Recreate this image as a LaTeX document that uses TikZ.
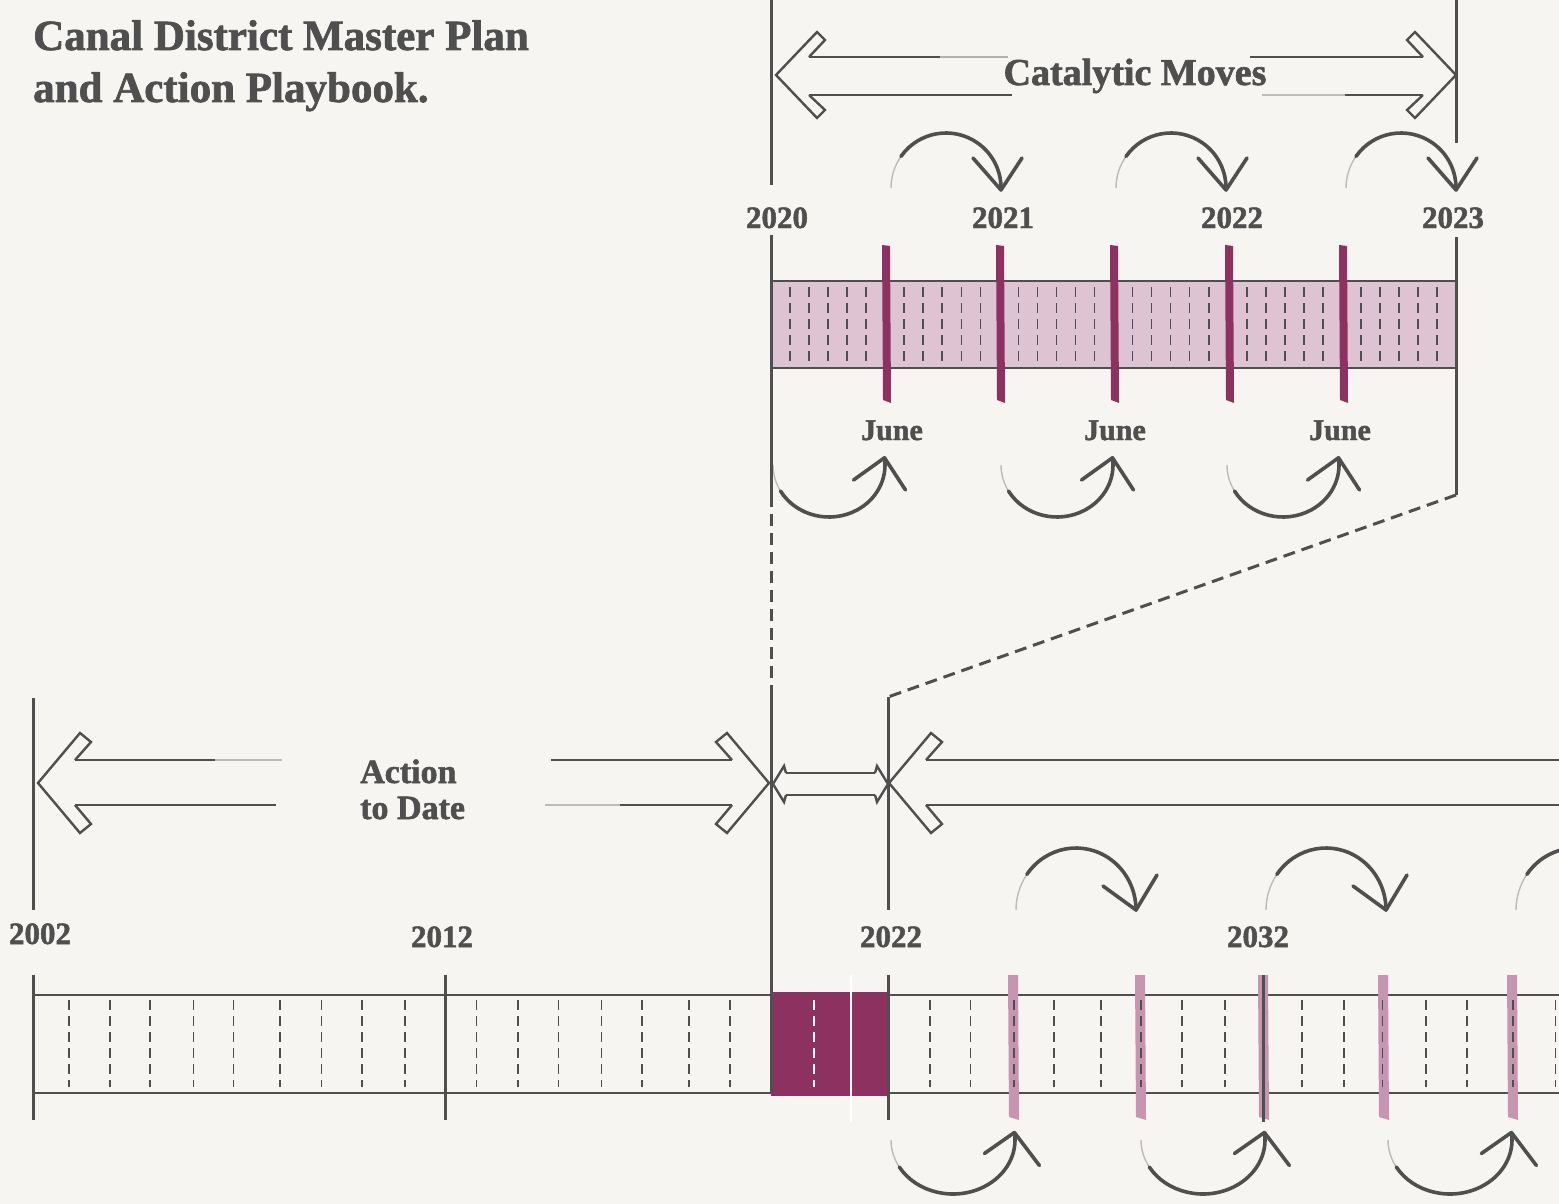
\documentclass[tikz,border=0pt]{standalone}
\usepackage{fontspec}
\setmainfont{Liberation Serif}[BoldFeatures={FakeBold=1.6}]
\usetikzlibrary{calc}
\definecolor{paper}{HTML}{F6F5F1}
\definecolor{ink}{HTML}{4F4F4F}
\definecolor{plum}{HTML}{8C3160}
\definecolor{pinkband}{HTML}{DEC4D2}
\definecolor{pinkbar}{HTML}{C795B0}
\tikzset{
  rule/.style={draw=ink,line width=3pt},
  bandedge/.style={draw=ink,line width=2pt},
  monthtick/.style={draw=ink,line width=1.6pt,dash pattern=on 10pt off 6pt},
  zoomlink/.style={draw=ink,line width=3pt,dash pattern=on 12pt off 7pt},
  hollow/.style={draw=ink,line width=2.4pt,line join=miter},
  curlfaint/.style={draw=ink,line width=1.4pt,opacity=0.35},
  curlline/.style={draw=ink,line width=3.6pt,line cap=round,line join=round},
  lbl/.style={text=ink,inner sep=0pt,font=\bfseries\fontsize{#1}{#1}\selectfont},
}
\begin{document}
\begin{tikzpicture}[x=1pt,y=-1pt]
\fill[paper] (0,0) rectangle (1559,1204);
\useasboundingbox (0,0) rectangle (1559,1204);

% ---------- title ----------
\node[lbl=43,anchor=base west] (title1) at (33,50) {Canal District Master Plan};
\node[lbl=43,anchor=base west] (title2) at (33,102) {and Action Playbook.};

% ---------- top (zoomed) band ----------
\fill[pinkband] (771,280) rectangle (1456,369);
\draw[bandedge] (771,281) -- (1456,281);
\draw[bandedge] (771,368) -- (1456,368);
\foreach \i in {1,...,35} {\draw[monthtick] ({771+\i*19.03},287) -- ++(0,75);}
\foreach \x in {886,1000,1114,1229,1343} {
  \fill[plum] (\x-4,245) -- (\x+4,246) -- (\x+5,403) -- (\x-3,400) -- cycle;}

% vertical rules, top
\draw[rule] (771,0) -- (771,185);
\draw[rule] (771,235) -- (771,495);
\draw[rule] (1456,0) -- (1456,143);
\draw[rule] (1456,237) -- (1456,495);

% zoom links
\coordinate (zl1) at (771,495); \coordinate (zl2) at (771,690);
\coordinate (zr1) at (1456,495); \coordinate (zr2) at (888,697);
\draw[zoomlink] (zl1) -- (zl2);
\draw[zoomlink] (zr1) -- (zr2);

% ---------- Catalytic Moves arrow ----------
\draw[hollow] (809,57) -- (825,40) -- (817,32) -- (776,75) -- (817,118) -- (825,110) -- (809,95);
\draw[hollow] (1423,57) -- (1407,40) -- (1415,32) -- (1456,75) -- (1415,118) -- (1407,110) -- (1423,95);
\draw[hollow] (809,57) -- (940,57);
\draw[hollow,opacity=0.4] (940,57) -- (1008,57);
\draw[hollow] (1250,57) -- (1423,57);
\draw[hollow] (809,95) -- (1012,95);
\draw[hollow,opacity=0.35] (1262,95) -- (1345,95);
\draw[hollow] (1345,95) -- (1423,95);
\node[lbl=38,anchor=base] (catalytic) at (1135,85) {Catalytic Moves};

% top year labels
\node[lbl=31,anchor=base] (y2020t) at (777,228) {2020};
\node[lbl=31,anchor=base] (y2021t) at (1003,228) {2021};
\node[lbl=31,anchor=base] (y2022t) at (1232,228) {2022};
\node[lbl=31,anchor=base] (y2023t) at (1453,228) {2023};

% June labels
\node[lbl=30,anchor=base] (june1) at (892,440) {June};
\node[lbl=30,anchor=base] (june2) at (1115,440) {June};
\node[lbl=30,anchor=base] (june3) at (1340,440) {June};

% curls above top years
\foreach \cx in {946,1171,1401} {
  \draw[curlfaint] (\cx,188) ++(180:55) arc[start angle=180,end angle=215,radius=55];
  \draw[curlline] (\cx,188) ++(215:55) arc[start angle=215,end angle=362,radius=55];
  \draw[curlline] (\cx+27,158) -- (\cx+55,190) -- (\cx+76,158);
}
% curls below June
\foreach \cx in {829,1057,1283} {
  \draw[curlfaint] (\cx,465) ++(180:56 and 52) arc[start angle=180,end angle=150,x radius=56,y radius=52];
  \draw[curlline] (\cx,465) ++(150:56 and 52) arc[start angle=150,end angle=-8,x radius=56,y radius=52];
  \draw[curlline] (\cx+24.5,480) -- (\cx+55.5,457.8) -- (\cx+76.5,490);
}

% ---------- Action to Date arrows ----------
\draw[hollow] (75,760) -- (91,742) -- (80,733) -- (38,783) -- (80,833) -- (91,824) -- (75,805);
\draw[hollow] (732,760) -- (716,742) -- (727,733) -- (769,783) -- (727,833) -- (716,824) -- (732,805);
\draw[hollow] (75,760) -- (215,760);
\draw[hollow,opacity=0.35] (215,760) -- (282,760);
\draw[hollow] (75,805) -- (276,805);
\draw[hollow] (551,760) -- (732,760);
\draw[hollow,opacity=0.35] (545,805) -- (620,805);
\draw[hollow] (620,805) -- (732,805);
\node[lbl=34,anchor=base west] (action1) at (360,783) {Action};
\node[lbl=34,anchor=base west] (action2) at (360,819) {to Date};

% small arrow 2020-2022
\draw[hollow] (786,773) -- (784,766) -- (773,784) -- (784,802) -- (786,795);
\draw[hollow] (875,773) -- (877,766) -- (888,784) -- (877,802) -- (875,795);
\draw[hollow] (786,773) -- (875,773);
\draw[hollow] (786,795) -- (875,795);

% right open arrow
\draw[hollow] (926,760) -- (942,742) -- (931,733) -- (889,783) -- (931,833) -- (942,824) -- (926,805);
\draw[hollow] (926,760) -- (1565,760);
\draw[hollow] (926,805) -- (1565,805);

% ---------- bottom band ----------
\draw[bandedge] (33,995) -- (1565,995);
\draw[bandedge] (33,1093) -- (1565,1093);
\foreach \x in {1013,1140,1263,1383,1512} {
  \fill[pinkbar] (\x-5,975) -- (\x+5,975) -- (\x+6,1120) -- (\x-4,1117) -- cycle;}
\foreach \x in {69,110,150,193.5,233.6,280,321.5,361.7,404.7,476.5,518,558.5,601.6,641.8,688.9,730.2,930,970.6,1013.8,1054,1100.7,1140.9,1182,1224.7,1302,1343.7,1382.5,1426,1467,1513,1555.5}
  {\draw[monthtick] (\x,1000) -- (\x,1087);}
\fill[plum] (771,992) rectangle (889,1096);
\draw[white,line width=1.6pt,dash pattern=on 10pt off 6pt] (814,1000) -- (814,1087);
\draw[white,line width=2pt] (851,975) -- (851,1122);

% bottom rules
\draw[rule] (771,690) -- (771,1093);
\draw[rule] (888,697) -- (888,910);
\draw[rule] (888,975) -- (888,1120);
\draw[rule] (33,698) -- (33,910);
\draw[rule] (33,975) -- (33,1120);
\draw[rule] (445,975) -- (445,1120);
\draw[rule] (1263,975) -- (1263,1122);

% bottom year labels
\node[lbl=31,anchor=base] (y2002) at (40,944) {2002};
\node[lbl=31,anchor=base] (y2012) at (442,947) {2012};
\node[lbl=31,anchor=base] (y2022b) at (891,947) {2022};
\node[lbl=31,anchor=base] (y2032) at (1258,947) {2032};

% curls above bottom band
\foreach \cx in {1076,1326,1576} {
  \draw[curlfaint] (\cx,910) ++(180:60 and 62) arc[start angle=180,end angle=215,x radius=60,y radius=62];
  \draw[curlline] (\cx,910) ++(215:60 and 62) arc[start angle=215,end angle=360,x radius=60,y radius=62];
  \draw[curlline] (\cx+27,886) -- (\cx+60,910) -- (\cx+81,875);
}
% curls below bottom band
\foreach \cx in {953,1203,1450} {
  \draw[curlfaint] (\cx,1140) ++(180:62 and 54) arc[start angle=180,end angle=150,x radius=62,y radius=54];
  \draw[curlline] (\cx,1140) ++(150:62 and 54) arc[start angle=150,end angle=-8,x radius=62,y radius=54];
  \draw[curlline] (\cx+31.4,1153.5) -- (\cx+61.4,1132.5) -- (\cx+86.4,1165.5);
}
\end{tikzpicture}
\end{document}
